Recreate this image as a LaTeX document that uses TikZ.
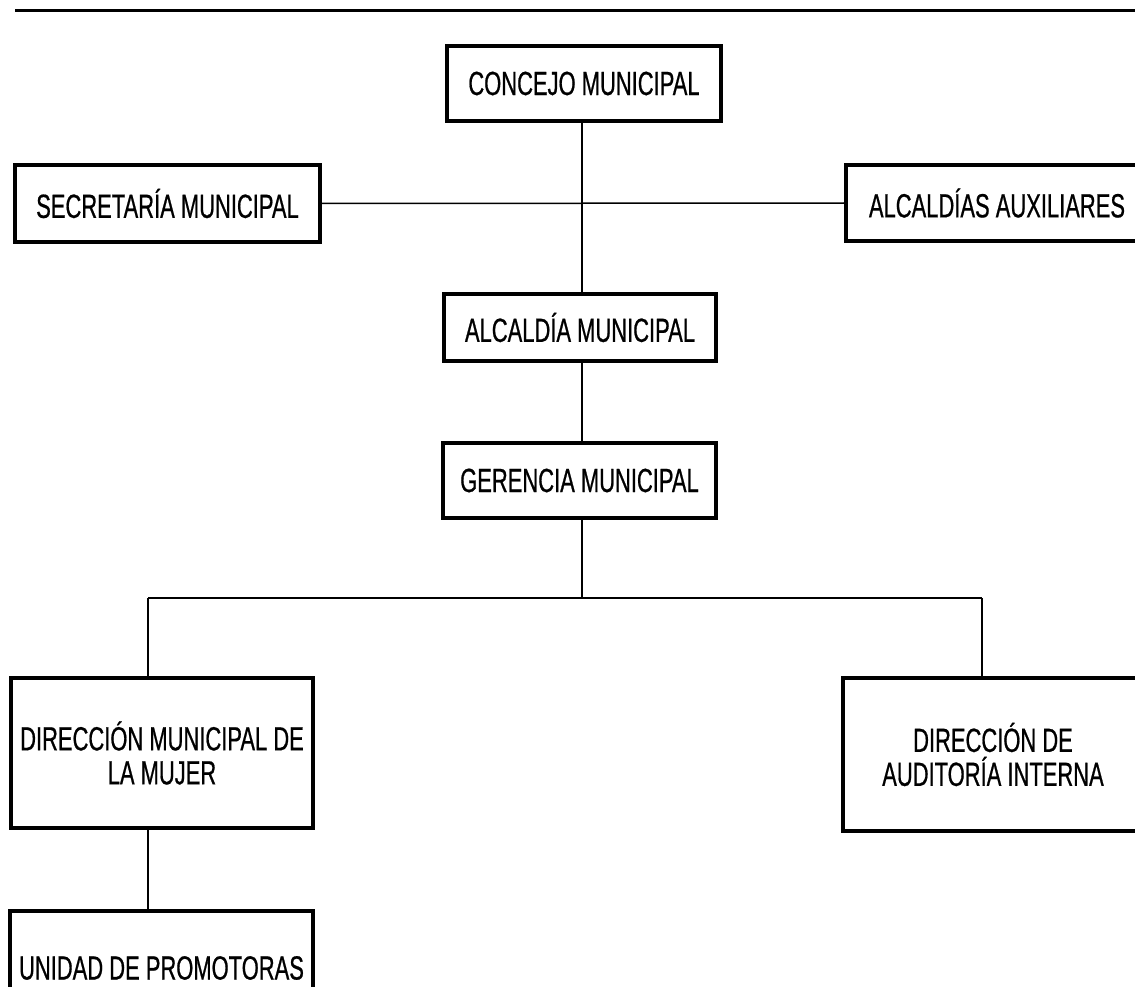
\documentclass[tikz,border=0pt]{standalone}
\usepackage{fontspec}
\setmainfont{Liberation Sans}[FakeStretch=0.655,FakeBold=0.6]
\begin{document}
\begin{tikzpicture}[x=1pt,y=-1pt,
  orgbox/.style={draw, line width=3.5pt, inner sep=0pt, align=center,
    font=\fontsize{33.5}{34}\selectfont},
  link/.style={line width=1.5pt}]
\useasboundingbox (0,0) rectangle (1135,987);

% header rule
\coordinate (ruleL) at (15,11);
\coordinate (ruleR) at (1140,11);
\draw[line width=3pt] (ruleL) -- (ruleR);

% boxes
\node[orgbox, minimum width=274pt, minimum height=75pt] (conc) at (584,83.5) {CONCEJO MUNICIPAL};
\node[orgbox, minimum width=305pt, minimum height=77pt] (sec) at (167.5,203.5) {SECRETARÍA MUNICIPAL};
\node[orgbox, minimum width=302pt, minimum height=76pt] (aux) at (997,203) {ALCALDÍAS AUXILIARES};
\node[orgbox, minimum width=272pt, minimum height=67pt] (alc) at (580,327.5) {ALCALDÍA MUNICIPAL};
\node[orgbox, minimum width=273pt, minimum height=75pt] (ger) at (579.5,480.5) {GERENCIA MUNICIPAL};
\node[orgbox, minimum width=302pt, minimum height=150pt] (dmm) at (162,753) {DIRECCIÓN MUNICIPAL DE\\LA MUJER};
\node[orgbox, minimum width=300pt, minimum height=153pt] (dai) at (993,754.5) {DIRECCIÓN DE\\AUDITORÍA INTERNA};
\node[orgbox, minimum width=303pt, minimum height=114pt] (upr) at (161.5,968) {UNIDAD DE PROMOTORAS};

% connectors
\coordinate (spine) at (582,0);
\coordinate (bl) at (148,598);
\coordinate (br) at (982,598);
\draw[link] (conc.south -| spine) -- (alc.north -| spine);
\draw[link] (sec.east) -- (aux.west);
\draw[link] (alc.south -| spine) -- (ger.north -| spine);
\draw[link] (ger.south -| spine) -- (spine |- bl);
\draw[link] (bl) -- (br);
\draw[link] (bl) -- (bl |- dmm.north);
\draw[link] (br) -- (br |- dai.north);
\draw[link] (dmm.south -| bl) -- (upr.north -| bl);
\end{tikzpicture}
\end{document}
